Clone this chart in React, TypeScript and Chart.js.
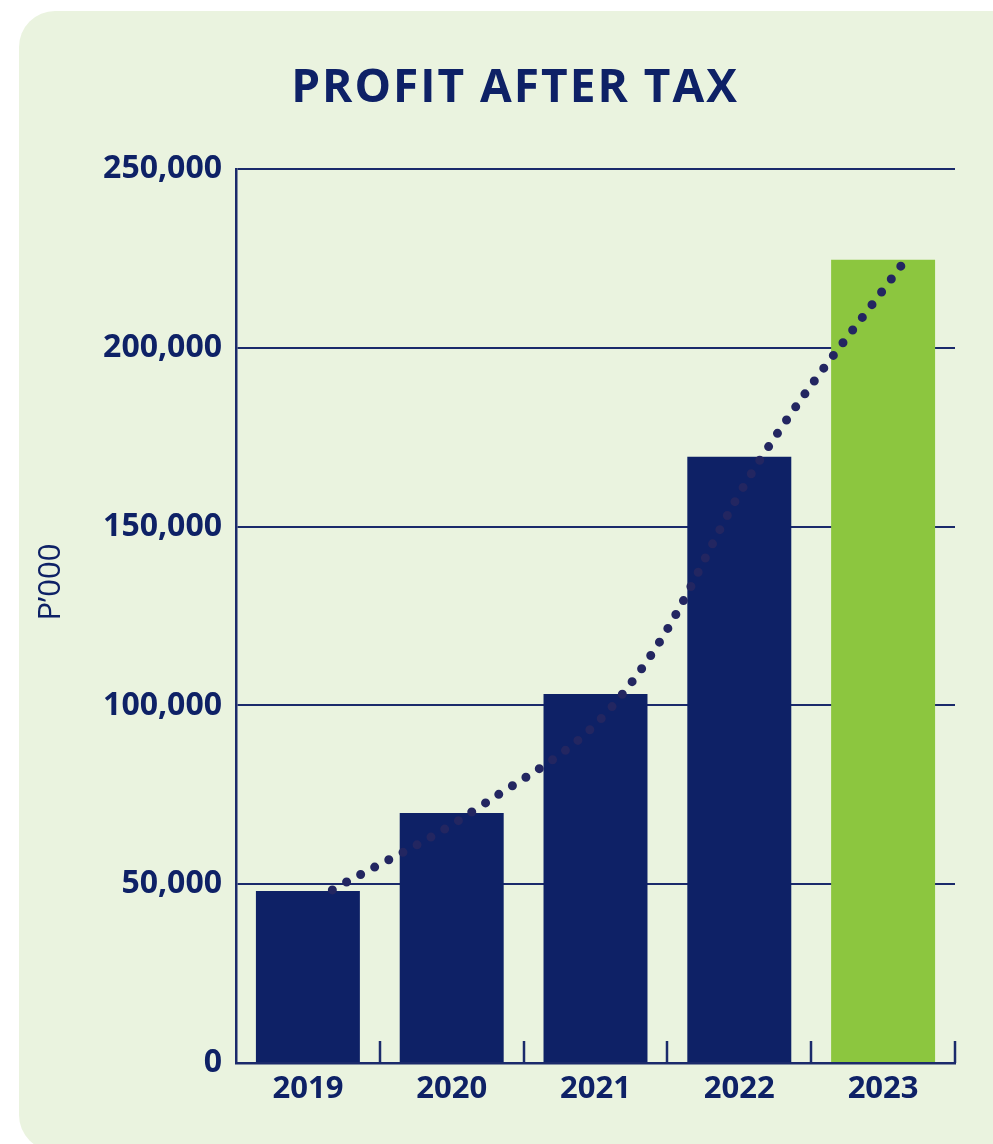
import React, { useEffect, useRef } from "react";
import { Chart, registerables } from "chart.js";

Chart.register(...registerables);

const categories = ["2019", "2020", "2021", "2022", "2023"];
const profitValues = [48100, 69900, 103200, 169500, 224600];
const trendValues = [48400, 71000, 102300, 170300, 225400];
const yTicks = [0, 50000, 100000, 150000, 200000, 250000];
const barColors = ["#0E2166", "#0E2166", "#0E2166", "#0E2166", "#8CC63F"];

const W = 993;
const H = 1144;
const NAVY = "#0E2166";
const FONT = "'Open Sans', 'Noto Sans', sans-serif";

const decorPlugin = {
  id: "decor",
  beforeDraw(chart: any) {
    const ctx = chart.ctx;
    ctx.save();
    ctx.fillStyle = "#FFFFFF";
    ctx.fillRect(0, 0, W, H);
    ctx.fillStyle = "#EAF3DF";
    ctx.beginPath();
    (ctx as any).roundRect(19, 11, 1040, 1140, 36);
    ctx.fill();
    // title
    ctx.fillStyle = NAVY;
    ctx.font = `700 46px ${FONT}`;
    (ctx as any).letterSpacing = "2px";
    ctx.textAlign = "center";
    ctx.textBaseline = "alphabetic";
    ctx.fillText("PROFIT AFTER TAX", 515, 102);
    (ctx as any).letterSpacing = "0px";
    // y axis title
    ctx.translate(51, 582);
    ctx.rotate(-Math.PI / 2);
    ctx.font = `400 31px ${FONT}`;
    ctx.textBaseline = "middle";
    ctx.fillText("P\u2019000", 0, 0);
    ctx.restore();
  },
  afterDatasetsDraw(chart: any) {
    const ctx = chart.ctx;
    const xs = chart.scales.x;
    const area = chart.chartArea;
    const n = categories.length;
    ctx.save();
    ctx.strokeStyle = "#1B2A6B";
    ctx.lineWidth = 2.5;
    for (let i = 0; i < n; i++) {
      const left = xs.getPixelForValue(i);
      const right = i < n - 1 ? xs.getPixelForValue(i + 1) : left + (left - xs.getPixelForValue(i - 1));
      const bx = Math.round((left + right) / 2);
      ctx.beginPath();
      ctx.moveTo(bx, area.bottom);
      ctx.lineTo(bx, area.bottom - 22);
      ctx.stroke();
    }
    ctx.restore();
  },
};

export default function App() {
  const ref = useRef<HTMLCanvasElement>(null);
  useEffect(() => {
    if (!ref.current) return;
    const chart = new Chart(ref.current, {
      type: "bar",
      data: {
        labels: categories,
        datasets: [
          {
            type: "line" as any,
            data: trendValues.map((v, i) => ({ x: i + 0.17, y: v })),
            xAxisID: "x2",
            borderColor: "#232661",
            borderWidth: 9,
            borderDash: [0, 16],
            borderCapStyle: "round",
            pointRadius: 0,
            tension: 0.4,
            fill: false,
            order: 0,
          } as any,
          {
            type: "bar",
            data: profitValues,
            backgroundColor: barColors,
            categoryPercentage: 1,
            barPercentage: 0.723,
            grouped: false,
            order: 1,
          } as any,
        ],
      },
      options: {
        responsive: false,
        animation: false,
        layout: { padding: { left: 0, top: 169, right: 38, bottom: 0 } },
        plugins: {
          legend: { display: false },
          tooltip: { enabled: false },
        },
        scales: {
          x: {
            type: "category",
            offset: true,
            grid: { display: false, drawTicks: false },
            border: { display: true, color: "#1B2A6B", width: 2.5 },
            ticks: {
              color: NAVY,
              font: { family: FONT, size: 31, weight: "bold" },
              padding: 8,
            },
            afterFit: (s: any) => {
              s.height = 81;
            },
          },
          x2: {
            type: "linear",
            min: -0.5,
            max: 4.5,
            offset: false,
            bounds: "data",
            display: false,
            grid: { offset: false },
          },
          y: {
            min: 0,
            max: 250000,
            afterBuildTicks: (s: any) => {
              s.ticks = yTicks.map((v) => ({ value: v }));
            },
            grid: {
              color: "#1B2A6B",
              lineWidth: 2,
              drawTicks: false,
            },
            border: { display: true, color: "#1B2A6B", width: 2.5 },
            ticks: {
              color: NAVY,
              font: { family: FONT, size: 32, weight: "bold" },
              padding: 14,
              callback: (v: any) => Number(v).toLocaleString("en-US"),
            },
            afterFit: (s: any) => {
              s.width = 236;
            },
          },
        },
      },
      plugins: [decorPlugin],
    });
    return () => chart.destroy();
  }, []);
  return (
    <div style={{ position: "absolute", left: 0, top: 0, width: W, height: H }}>
      <canvas ref={ref} width={W} height={H} style={{ width: W, height: H, display: "block" }} />
    </div>
  );
}
